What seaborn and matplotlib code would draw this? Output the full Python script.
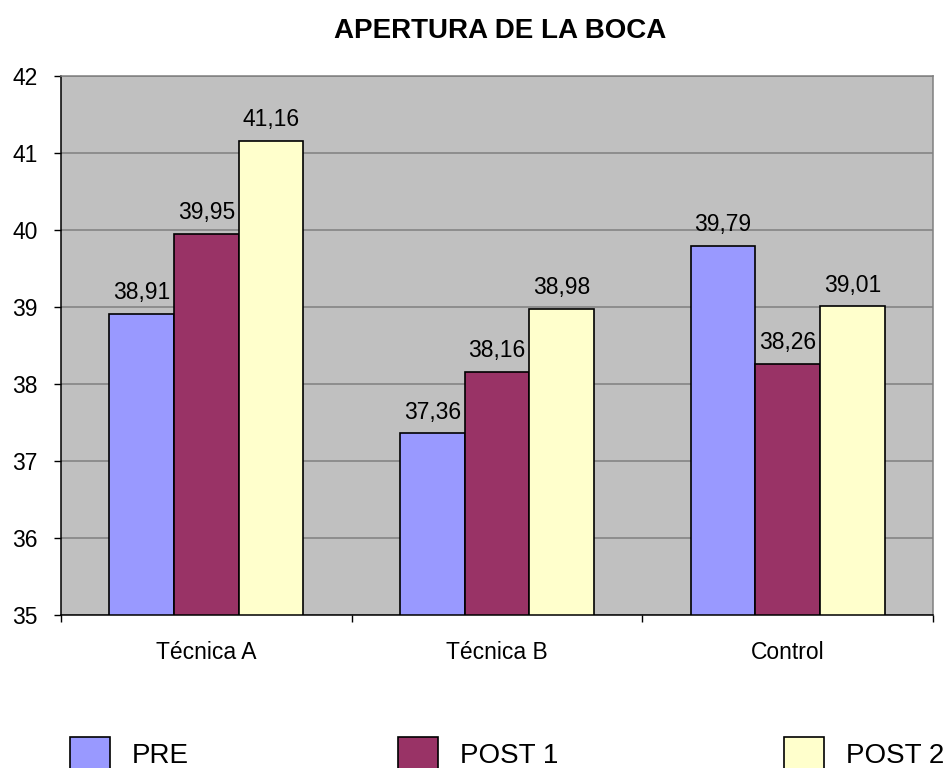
import matplotlib
matplotlib.use("Agg")
import matplotlib.pyplot as plt
import seaborn as sns
import pandas as pd

categories = ["Técnica A", "Técnica B", "Control"]
series = ["PRE", "POST 1", "POST 2"]
pre = [38.91, 37.36, 39.79]
post1 = [39.95, 38.16, 38.26]
post2 = [41.16, 38.98, 39.01]
colors = ["#9999FF", "#993366", "#FFFFCC"]
y_ticks = [35, 36, 37, 38, 39, 40, 41, 42]

rows = []
for s, vals in zip(series, [pre, post1, post2]):
    for c, v in zip(categories, vals):
        rows.append({"grupo": c, "serie": s, "valor": v})
df = pd.DataFrame(rows)

plt.rcParams['font.family'] = ['Liberation Sans', 'DejaVu Sans']

fig = plt.figure(figsize=(9.53, 7.68), dpi=100)
ax = fig.add_axes([61/953, 1-615/768, (933-61)/953, (615-76)/768])
ax.set_facecolor("#C0C0C0")

sns.barplot(data=df, x="grupo", y="valor", hue="serie", order=categories,
            hue_order=series, palette=colors, width=0.667, gap=0,
            edgecolor="black", linewidth=1.2, errorbar=None, ax=ax, saturation=1)

ax.set_ylim(35, 42)
ax.set_xlim(-0.5, 2.5)
ax.set_yticks(y_ticks)
ax.yaxis.grid(True, color="#808080", lw=1.1)
ax.set_axisbelow(True)
ax.set_xlabel("")
ax.set_ylabel("")

for side in ["top", "right"]:
    ax.spines[side].set_color("#808080")
    ax.spines[side].set_linewidth(1.1)
for side in ["left", "bottom"]:
    ax.spines[side].set_color("black")
    ax.spines[side].set_linewidth(1.1)

ax.tick_params(axis="y", length=5, width=1, pad=12, labelsize=16.5, direction="out")
ax.tick_params(axis="x", which="major", length=0, pad=19, labelsize=16.5)
ax.set_xticks([-0.5, 0.5, 1.5, 2.5], minor=True)
ax.tick_params(axis="x", which="minor", length=5, width=1, direction="out")

for cont in ax.containers:
    labels = [f"{b.get_height():.2f}".replace(".", ",") for b in cont]
    ax.bar_label(cont, labels=labels, padding=7, fontsize=16.5)

handles, labels = ax.get_legend_handles_labels()
if ax.get_legend() is not None:
    ax.get_legend().remove()

xs = [70/953, 398/953, 784/953]
for h, l, x in zip(handles, labels, xs):
    fig.legend(handles=[h], labels=[l], loc="upper left",
               bbox_to_anchor=(x, 1-737/768), frameon=False, borderpad=0,
               borderaxespad=0, fontsize=20, handlelength=1.43,
               handleheight=1.43, handletextpad=0.79)

fig.text(500/953, 1-38/768, "APERTURA DE LA BOCA", ha="center", va="baseline",
         fontsize=20, fontweight="bold")

fig.savefig("out.png", dpi=100)
